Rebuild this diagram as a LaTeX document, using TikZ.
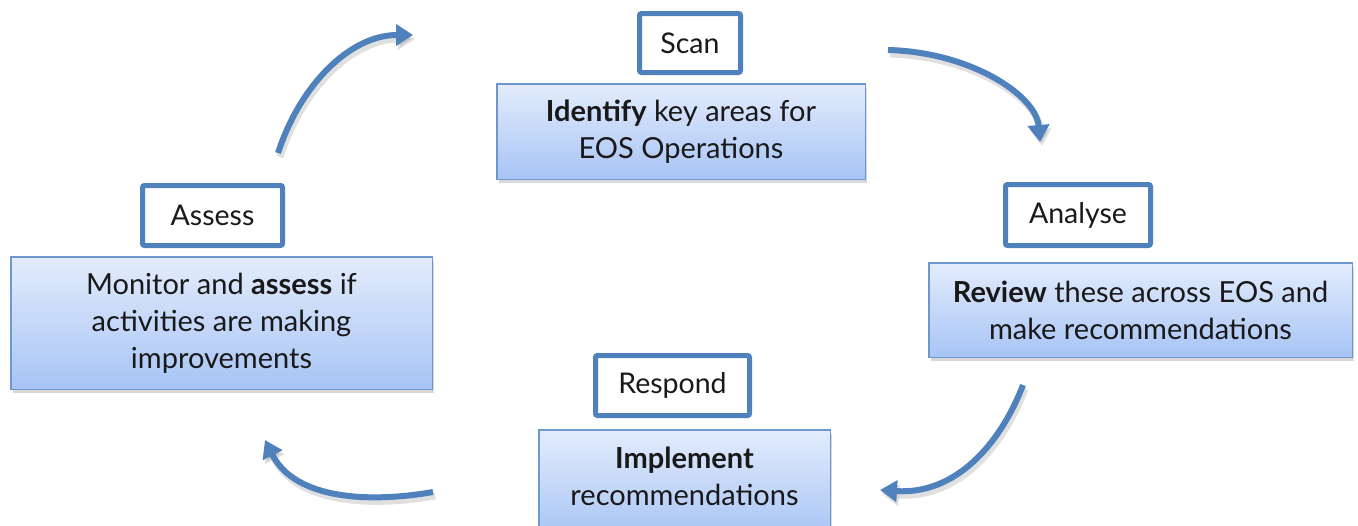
\documentclass[tikz,border=0pt]{standalone}
\usepackage{fontspec}
\setmainfont{Lato}
\usetikzlibrary{arrows.meta,shadows}
\definecolor{lblue}{HTML}{4F81BD}
\definecolor{gtop}{HTML}{E3ECFC}
\definecolor{gbot}{HTML}{A7C4F5}
\definecolor{gborder}{HTML}{6F97CF}
\begin{document}
\begin{tikzpicture}[x=1pt,y=-1pt,
  lab/.style={draw=lblue,line width=5pt,fill=white,rounded corners=2pt,inner sep=0pt,
    font=\fontsize{28.5}{30}\selectfont,text=black!90},
  body/.style={draw=gborder,line width=1.5pt,top color=gtop,bottom color=gbot,inner sep=0pt,
    align=center,font=\fontsize{29}{37}\selectfont,text=black!90,
    drop shadow={shadow xshift=2pt,shadow yshift=-4pt,opacity=0.25,fill=black!60}},
  cyc/.style={draw=lblue,line width=6pt,-{Triangle[length=17pt,width=21pt]}},
  cycsh/.style={draw=black,opacity=0.12,line width=7pt,-{Triangle[length=17pt,width=21pt]}}
]
\useasboundingbox (0,0) rectangle (1358,525);
\fill[white] (0,0) rectangle (1358,525);

% shadows of arrows
\begin{scope}[shift={(2,4)}]
\draw[cycsh] (278,153) .. controls (300,85) and (350,35) .. (413,35);
\draw[cycsh] (888,50) .. controls (970,52) and (1036,95) .. (1040,142);
\draw[cycsh] (1023,385) .. controls (1000,445) and (955,495) .. (880,490);
\draw[cycsh] (433,492) .. controls (370,503) and (295,500) .. (265,440);
\end{scope}

% gradient boxes
\node[body,minimum width=368.5pt,minimum height=95.5pt] (identify) at (681,131.5)
  {\textbf{Identify} key areas for\\EOS Operations};
\node[body,minimum width=423.5pt,minimum height=94.5pt] (review) at (1140.5,310)
  {\textbf{Review} these across EOS and\\make recommendations};
\node[body,minimum width=421.5pt,minimum height=132.5pt] (monitor) at (221.5,323)
  {Monitor and \textbf{assess} if\\activities are making\\improvements};
\node[body,minimum width=291.5pt,minimum height=108pt] (implement) at (684.5,484) {};
\node[align=center,font=\fontsize{29}{37}\selectfont,text=black!90] (impltext) at (684.5,476)
  {\textbf{Implement}\\recommendations};

% label boxes
\node[lab,minimum width=101pt,minimum height=59pt] (scan) at (690,43) {Scan};
\node[lab,minimum width=145pt,minimum height=61pt] (analyse) at (1078,215) {Analyse};
\node[lab,minimum width=140pt,minimum height=60pt] (assess) at (212.5,215.5) {Assess};
\node[lab,minimum width=154pt,minimum height=60pt] (respond) at (672.5,385.5) {Respond};

% arrow endpoints
\coordinate (a1s) at (278,153); \coordinate (a1e) at (413,35);
\coordinate (a2s) at (888,50);  \coordinate (a2e) at (1040,142);
\coordinate (a3s) at (1023,385); \coordinate (a3e) at (880,490);
\coordinate (a4s) at (433,492); \coordinate (a4e) at (265,440);

\draw[cyc] (a1s) .. controls (300,85) and (350,35) .. (a1e);
\draw[cyc] (a2s) .. controls (970,52) and (1036,95) .. (a2e);
\draw[cyc] (a3s) .. controls (1000,445) and (955,495) .. (a3e);
\draw[cyc] (a4s) .. controls (370,503) and (295,500) .. (a4e);
\end{tikzpicture}
\end{document}
